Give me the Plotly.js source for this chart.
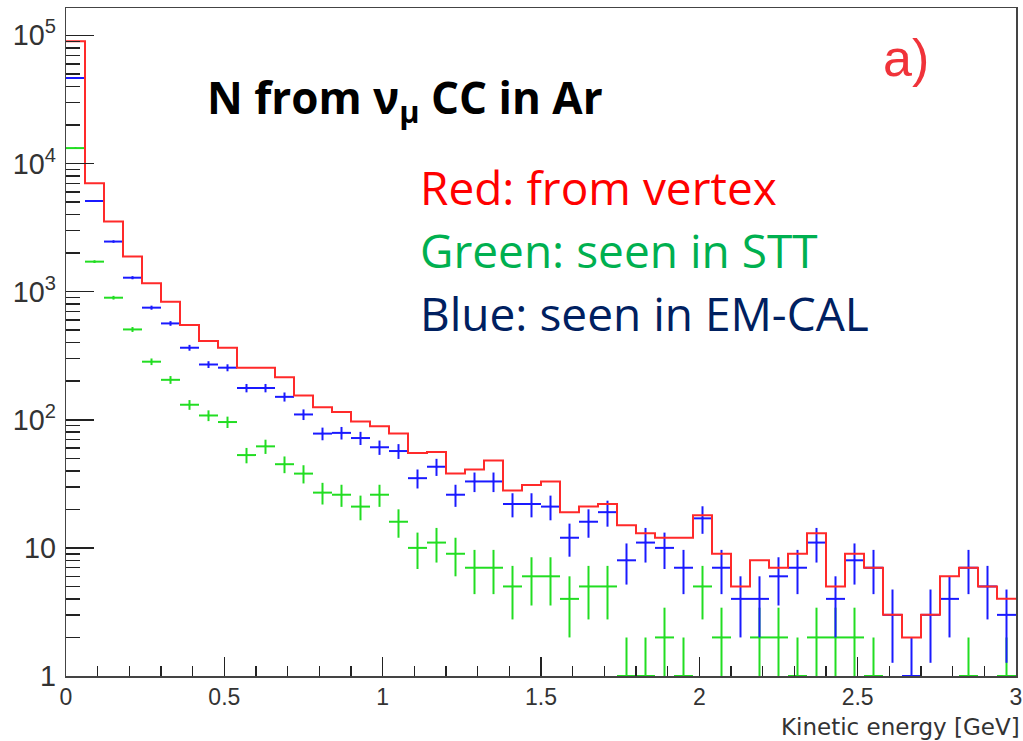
<!DOCTYPE html>
<html>
<head>
<meta charset="utf-8">
<script src="https://cdn.plot.ly/plotly-3.0.1.min.js"></script>
<style>
  html, body { margin: 0; padding: 0; background: #ffffff; }
  #chart { width: 1023px; height: 741px; }
</style>
</head>
<body>
<div id="chart"></div>
<script>
// Histogram binning (GeV)
const binLow = 0.0;
const binWidth = 0.06;
const nBins = 50;

// Red: from vertex (step histogram)
const redCounts = [
  90000, 7030, 3525, 1880, 1162, 835, 549, 411, 365, 255,
  255, 215, 155, 125, 115, 97, 89, 78, 55, 56,
  38, 41, 48, 28, 31, 33, 19, 21, 22, 15,
  13, 12, 12, 18, 9, 5, 8, 7, 9, 13,
  5, 9, 7, 3, 2, 3, 6, 7, 5, 4
];

// Blue: seen in EM-CAL (points with errors)
const blueCounts = [
  46500, 5100, 2460, 1285, 750, 565, 365, 270, 255, 177,
  177, 151, 110, 78, 79, 72, 61, 57, 35, 43,
  26, 33, 33, 22, 22, 21, 12, 16, 19, 8,
  11, 10, 7, 17, 7, 4, 4, 6, 7, 11,
  4, 8, 7, 3, 1, 3, 4, 7, 5, 3
];

// Green: seen in STT (points with errors)
const greenCounts = [
  13200, 1715, 897, 507, 284, 205, 131, 108, 96, 53,
  62, 45, 38, 27, 26, 21, 26, 16, 10, 11,
  9, 7, 7, 5, 6, 6, 4, 5, 5, 1,
  1, 2, 1, 5, 2, 0, 2, 2, 1, 2,
  2, 2, 1, 0, 0, 0, 0, 1, 0, 1
];

// Axis tick labels
const xTickVals = [0, 0.5, 1, 1.5, 2, 2.5, 3];
const xTickText = ['0', '0.5', '1', '1.5', '2', '2.5', '3'];

// Text labels
const titleText = '<b>N from ν<sub>μ</sub> CC in Ar</b>';
const legendLines = ['Red: from vertex', 'Green: seen in STT', 'Blue: seen in EM-CAL'];
const legendColors = ['#ff0000', '#00b050', '#002060'];
const panelLabel = 'a)';
const xTitle = 'Kinetic energy [GeV]';

// derived bin geometry
const edges = [];
for (let i = 0; i <= nBins; i++) edges.push(+(binLow + i * binWidth).toFixed(4));
const centers = [];
for (let i = 0; i < nBins; i++) centers.push(+(binLow + (i + 0.5) * binWidth).toFixed(4));

function pointsTrace(counts, color) {
  const y = counts.map(v => (v > 0 ? v : null));
  const err = counts.map(v => (v > 0 ? Math.sqrt(v) : null));
  return {
    type: 'scatter', mode: 'markers',
    x: centers, y: y,
    marker: { size: 2, color: color },
    error_y: { type: 'data', array: err, symmetric: true, color: color, thickness: 2, width: 0 },
    error_x: { type: 'constant', value: binWidth / 2, color: color, thickness: 2, width: 0 },
    hoverinfo: 'x+y', showlegend: false
  };
}

const redStepX = edges.slice();
const redStepY = redCounts.concat([redCounts[redCounts.length - 1]]);

const traces = [
  pointsTrace(greenCounts, '#22dd22'),
  pointsTrace(blueCounts, '#1a1aff'),
  {
    type: 'scatter', mode: 'lines', x: redStepX, y: redStepY,
    line: { shape: 'hv', color: '#ff2a2a', width: 2 },
    showlegend: false
  }
];

// pixel helpers for annotation placement
const L = 66, R = 1016, T = 8, B = 676;
const px = v => (v - L) / (R - L);
const py = v => (B - v) / (B - T);

const calibriLike = '"Open Sans", Lato, sans-serif';
const annotations = [
  { text: titleText, xref: 'paper', yref: 'paper', x: px(205), y: py(99), xanchor: 'left', yanchor: 'middle',
    showarrow: false, font: { family: calibriLike, size: 44, color: '#000000' } },
  { text: panelLabel, xref: 'paper', yref: 'paper', x: px(906), y: py(58), xanchor: 'center', yanchor: 'middle',
    showarrow: false, font: { family: '"Liberation Sans", Arial, sans-serif', size: 52, color: '#f0333a' } },
  { text: xTitle, xref: 'paper', yref: 'paper', x: px(1021), y: py(741), xanchor: 'right', yanchor: 'bottom',
    showarrow: false, borderpad: 0, font: { family: '"DejaVu Sans", sans-serif', size: 23, color: '#333333' } }
];
const legendY = [187, 250, 313];
legendLines.forEach((t, i) => {
  annotations.push({ text: t, xref: 'paper', yref: 'paper', x: px(418), y: py(legendY[i]), xanchor: 'left', yanchor: 'middle',
    showarrow: false, font: { family: calibriLike, size: 46, color: legendColors[i] } });
});

const tickFont = { family: '"Liberation Sans", Arial, sans-serif', size: 23, color: '#333333' };

const layout = {
  width: 1023, height: 741,
  margin: { l: L, r: 1023 - R, t: T, b: 741 - B, pad: 0 },
  paper_bgcolor: '#ffffff', plot_bgcolor: '#ffffff',
  showlegend: false,
  xaxis: {
    range: [0, 3], showgrid: false, zeroline: false,
    showline: true, linecolor: '#444444', linewidth: 1.5, mirror: true,
    ticks: 'inside', ticklen: 19, tickwidth: 1.5, tickcolor: '#222222',
    tickvals: xTickVals, ticktext: xTickText,
    minor: { ticks: 'inside', ticklen: 10, tickwidth: 1.5, tickcolor: '#222222', dtick: 0.1, showgrid: false },
    tickfont: tickFont,
    ticklabelstandoff: 0
  },
  yaxis: {
    type: 'log', range: [0, 5.214], showgrid: false, zeroline: false,
    showline: true, linecolor: '#444444', linewidth: 1.5, mirror: true,
    ticks: 'inside', ticklen: 28, tickwidth: 1.5, tickcolor: '#222222',
    dtick: 1, exponentformat: 'power',
    minor: { ticks: 'inside', ticklen: 14, tickwidth: 1.5, tickcolor: '#222222', dtick: 'D1', showgrid: false },
    tickfont: tickFont,
    ticklabelstandoff: 4
  },
  annotations: annotations
};

Plotly.newPlot('chart', traces, layout, { displayModeBar: false, staticPlot: true });
</script>
</body>
</html>
